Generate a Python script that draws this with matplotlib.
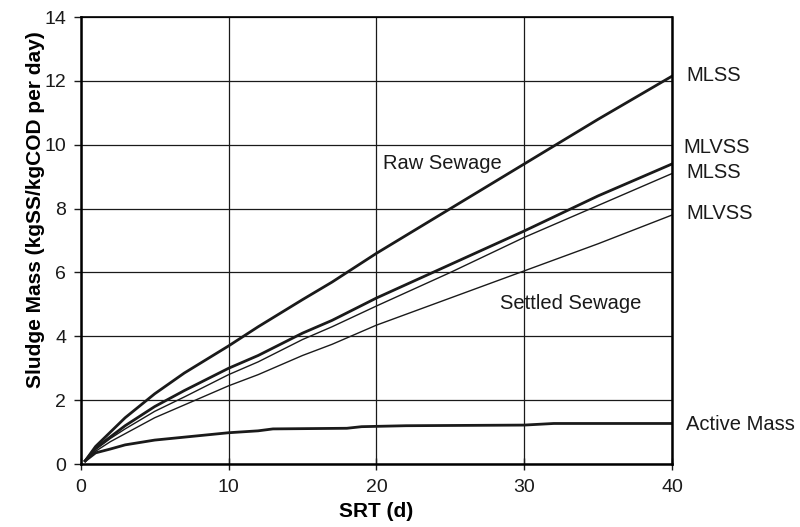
import matplotlib
matplotlib.use("Agg")
import matplotlib.pyplot as plt

plt.rcParams['font.family'] = ['Liberation Sans', 'DejaVu Sans']

srt = [0.3, 1, 2, 3, 5, 7, 10, 12, 15, 17, 20, 25, 30, 35, 40]
raw_mlss = [0.1, 0.55, 1.0, 1.45, 2.2, 2.85, 3.7, 4.3, 5.15, 5.7, 6.6, 8.0, 9.4, 10.8, 12.15]
raw_mlvss = [0.1, 0.5, 0.85, 1.2, 1.8, 2.3, 3.0, 3.4, 4.1, 4.5, 5.2, 6.25, 7.3, 8.4, 9.4]
set_mlss = [0.1, 0.45, 0.8, 1.1, 1.65, 2.1, 2.8, 3.2, 3.9, 4.3, 4.95, 6.0, 7.1, 8.1, 9.1]
set_mlvss = [0.1, 0.4, 0.7, 0.95, 1.45, 1.85, 2.45, 2.8, 3.4, 3.75, 4.35, 5.2, 6.05, 6.9, 7.8]

srt_active = [0.3, 1, 2, 3, 5, 10, 12, 13, 18, 19, 22, 30, 32, 40]
active = [0.1, 0.35, 0.47, 0.6, 0.75, 0.98, 1.04, 1.1, 1.12, 1.17, 1.2, 1.22, 1.27, 1.27]

end_labels = ["MLSS", "MLVSS", "MLSS", "MLVSS", "Active Mass"]
end_label_x = [40.95, 40.75, 40.95, 40.95, 40.95]
end_label_y = [12.18, 9.93, 9.14, 7.86, 1.25]

fig = plt.figure(figsize=(8, 5.27), dpi=100)
ax = fig.add_axes([0.101, 0.1195, 0.739, 0.848])

ax.plot(srt, raw_mlss, color='#1a1a1a', lw=2.0)
ax.plot(srt, raw_mlvss, color='#1a1a1a', lw=2.0)
ax.plot(srt, set_mlss, color='#1a1a1a', lw=1.0)
ax.plot(srt, set_mlvss, color='#1a1a1a', lw=1.0)
ax.plot(srt_active, active, color='#1a1a1a', lw=2.0)

ax.set_xlim(0, 40)
ax.set_ylim(0, 14)
ax.set_xticks([0, 10, 20, 30, 40])
ax.set_yticks(range(0, 15, 2))
ax.grid(True, color='#1a1a1a', lw=0.9)
ax.set_axisbelow(True)
ax.tick_params(axis='y', direction='out', length=5, width=1, labelsize=14, colors='#1a1a1a', pad=5.5)
ax.tick_params(axis='x', direction='inout', length=8, width=1, labelsize=14, colors='#1a1a1a', pad=7)
for s in ['left', 'bottom', 'right']:
    ax.spines[s].set_linewidth(1.8)
ax.spines['top'].set_linewidth(1.2)

ax.set_xlabel('SRT (d)', fontsize=15, fontweight='bold', labelpad=4)
ax.set_ylabel('Sludge Mass (kgSS/kgCOD per day)', fontsize=15, fontweight='bold', labelpad=3)
ax.yaxis.set_label_coords(-0.06, 0.569)

for lab, xv, yv in zip(end_labels, end_label_x, end_label_y):
    ax.text(xv, yv, lab, fontsize=14.5, va='center', ha='left', clip_on=False, color='#1a1a1a')

ax.text(20.44, 9.43, 'Raw Sewage', fontsize=14.5, va='center', ha='left', color='#1a1a1a')
ax.text(28.36, 5.04, 'Settled Sewage', fontsize=14.5, va='center', ha='left', color='#1a1a1a')

fig.savefig('out.png', dpi=100)
